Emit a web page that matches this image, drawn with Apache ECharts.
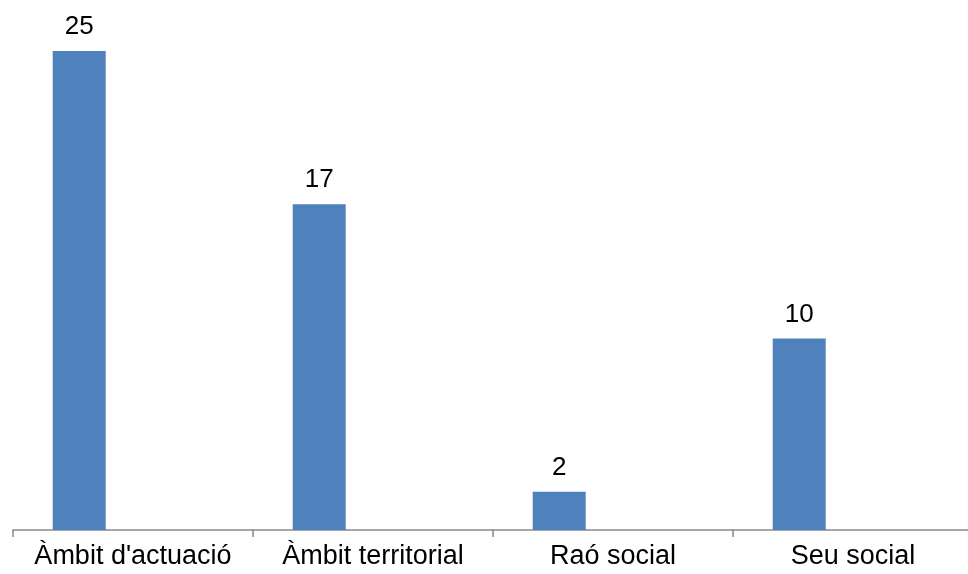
<!DOCTYPE html>
<html>
<head>
<meta charset="utf-8">
<script src="https://cdn.jsdelivr.net/npm/echarts@6/dist/echarts.min.js"></script>
<style>html,body{margin:0;padding:0;background:#fff;overflow:hidden;width:968px;height:574px;}#c{width:980px;height:574px;}</style>
</head>
<body>
<div id="c"></div>
<script>
const categories = ["Àmbit d'actuació", "Àmbit territorial", "Raó social", "Seu social"];
const values = [25, 17, 2, 10];
const emptySeries = [null, null, null, null];

const chart = echarts.init(document.getElementById('c'), null, {renderer: 'canvas'});
chart.setOption({
  animation: false,
  textStyle: {fontFamily: 'Liberation Sans, Arial, sans-serif'},
  grid: {left: 13, right: 7, top: 51, bottom: 44, containLabel: false},
  xAxis: {
    type: 'category',
    data: categories,
    boundaryGap: true,
    axisLine: {show: true, lineStyle: {color: '#898989', width: 1.5}},
    axisTick: {show: true, length: 7, interval: 0, lineStyle: {color: '#898989', width: 1.5}},
    axisLabel: {color: '#000', fontSize: 27, margin: 13, interval: 0, hideOverlap: false, fontFamily: 'Liberation Sans, Arial, sans-serif'}
  },
  yAxis: {
    type: 'value', min: 0, max: 25,
    show: false,
    splitLine: {show: false}
  },
  series: [
    {
      type: 'bar',
      data: values,
      barWidth: 53,
      barGap: '103%',
      itemStyle: {color: '#4F81BD'},
      label: {show: true, position: 'top', distance: 11, color: '#000', fontSize: 26, fontFamily: 'Liberation Sans, Arial, sans-serif'}
    },
    {
      type: 'bar',
      data: emptySeries,
      barWidth: 53,
      itemStyle: {color: '#C0504D'}
    }
  ]
});
</script>
</body>
</html>
